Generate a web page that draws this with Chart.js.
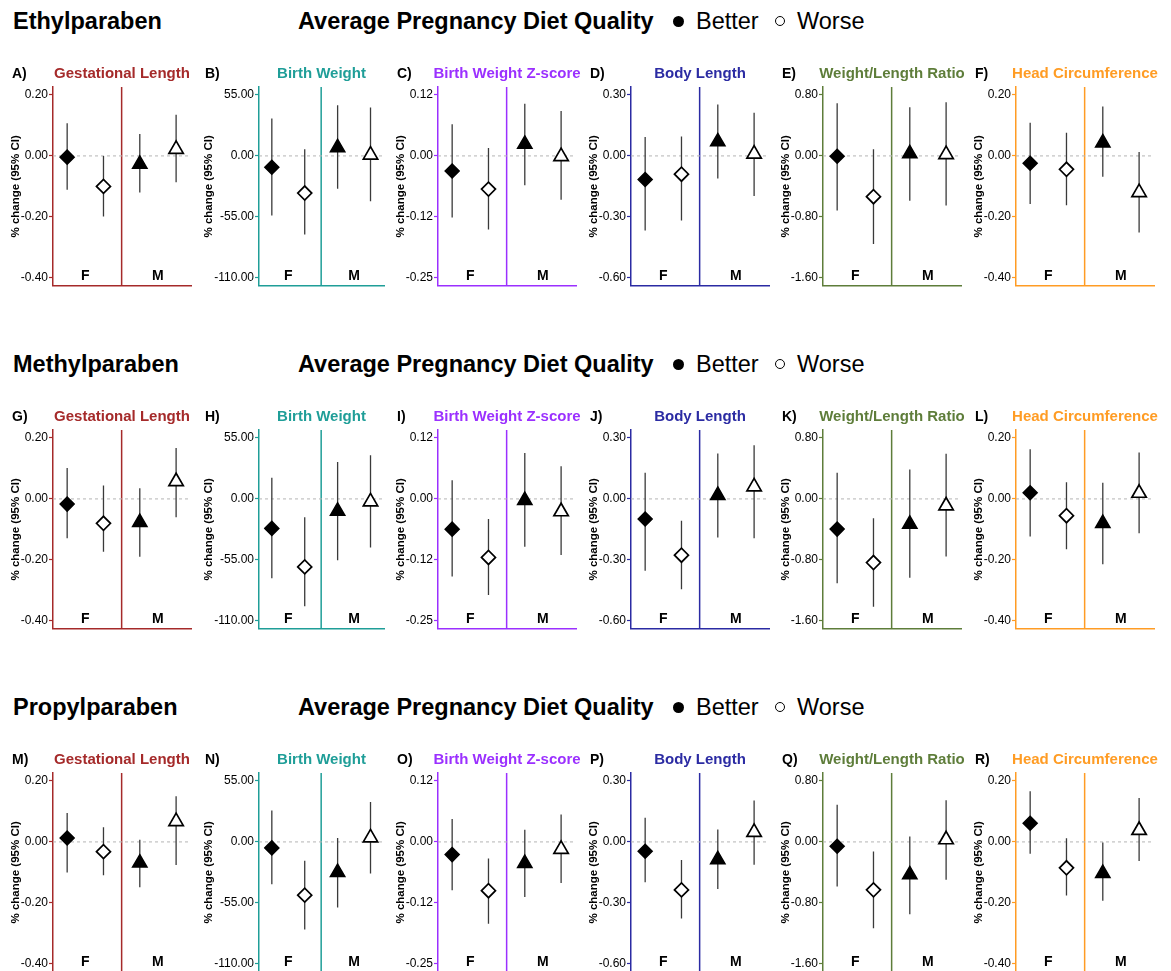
<!DOCTYPE html>
<html>
<head>
<meta charset="utf-8">
<script src="https://cdn.jsdelivr.net/npm/chart.js@4.4.1/dist/chart.umd.min.js"></script>
<style>
html, body { margin: 0; padding: 0; background: #fff; overflow: hidden; }
#wrap { position: relative; width: 1171px; height: 971px; overflow: hidden; font-family: "Liberation Sans", Arial, sans-serif; color: #000; }
.rowtitle { position: absolute; font-weight: bold; font-size: 23.5px; line-height: 27px; white-space: nowrap; }
.legtxt { position: absolute; font-size: 23.5px; line-height: 27px; white-space: nowrap; }
.dot { position: absolute; width: 11px; height: 11px; border-radius: 50%; background: #000; }
.odot { position: absolute; width: 8px; height: 8px; border-radius: 50%; border: 1.6px solid #000; background: #fff; }
canvas { position: absolute; }
</style>
</head>
<body>
<div id="wrap"></div>
<script>
// ---------- data ----------
const parabens = ['Ethylparaben', 'Methylparaben', 'Propylparaben'];
const legendTitle = 'Average Pregnancy Diet Quality';
const dietGroups = ['Better', 'Worse'];
const sexes = ['F', 'M'];
const outcomes = ['Gestational Length', 'Birth Weight', 'Birth Weight Z-score', 'Body Length', 'Weight/Length Ratio', 'Head Circumference'];
const panelLetters = [
  ['A)', 'B)', 'C)', 'D)', 'E)', 'F)'],
  ['G)', 'H)', 'I)', 'J)', 'K)', 'L)'],
  ['M)', 'N)', 'O)', 'P)', 'Q)', 'R)']
];
const yAxisTitle = '% change (95% CI)';
const yTickValues = [
  [-0.40, -0.20, 0.00, 0.20],
  [-110, -55, 0, 55],
  [-0.25, -0.125, 0, 0.125],
  [-0.60, -0.30, 0.00, 0.30],
  [-1.60, -0.80, 0.00, 0.80],
  [-0.40, -0.20, 0.00, 0.20]
];
const yTickLabels = [
  ['-0.40', '-0.20', '0.00', '0.20'],
  ['-110.00', '-55.00', '0.00', '55.00'],
  ['-0.25', '-0.12', '0.00', '0.12'],
  ['-0.60', '-0.30', '0.00', '0.30'],
  ['-1.60', '-0.80', '0.00', '0.80'],
  ['-0.40', '-0.20', '0.00', '0.20']
];

// per outcome: [F-Better, F-Worse, M-Better, M-Worse]
const ethylEstimate = [
  [-0.004, -0.100, -0.027, 0.022],
  [-10.2, -33.5, 7.5, 0.9],
  [-0.031, -0.068, 0.024, -0.001],
  [-0.116, -0.090, 0.070, 0.010],
  [-0.004, -0.535, 0.030, 0.020],
  [-0.024, -0.044, 0.043, -0.120]
];
const ethylLower = [
  [-0.111, -0.199, -0.120, -0.086],
  [-53.8, -70.8, -29.6, -41.0],
  [-0.126, -0.151, -0.060, -0.090],
  [-0.367, -0.318, -0.111, -0.197],
  [-0.717, -1.157, -0.587, -0.652],
  [-0.158, -0.162, -0.068, -0.251]
];
const ethylUpper = [
  [0.107, 0.000, 0.072, 0.135],
  [33.8, 6.0, 45.7, 43.6],
  [0.065, 0.016, 0.107, 0.092],
  [0.093, 0.096, 0.253, 0.212],
  [0.691, 0.087, 0.639, 0.704],
  [0.109, 0.076, 0.162, 0.013]
];

const methylEstimate = [
  [-0.017, -0.080, -0.077, 0.057],
  [-26.6, -61.3, -11.0, -2.5],
  [-0.062, -0.120, -0.003, -0.026],
  [-0.099, -0.277, 0.018, 0.060],
  [-0.396, -0.835, -0.330, -0.090],
  [0.020, -0.055, -0.080, 0.019]
];
const methylLower = [
  [-0.129, -0.173, -0.190, -0.060],
  [-71.6, -96.7, -55.3, -43.8],
  [-0.159, -0.197, -0.098, -0.115],
  [-0.354, -0.445, -0.190, -0.193],
  [-1.108, -1.415, -1.033, -0.756],
  [-0.123, -0.165, -0.214, -0.113]
];
const methylUpper = [
  [0.101, 0.044, 0.035, 0.167],
  [19.0, -16.6, 33.2, 39.3],
  [0.038, -0.041, 0.094, 0.067],
  [0.129, -0.107, 0.223, 0.264],
  [0.343, -0.255, 0.387, 0.593],
  [0.163, 0.055, 0.053, 0.152]
];

const propylEstimate = [
  [0.013, -0.032, -0.069, 0.067],
  [-5.4, -48.0, -27.5, 3.8],
  [-0.026, -0.100, -0.044, -0.015],
  [-0.046, -0.236, -0.087, 0.048],
  [-0.057, -0.629, -0.430, 0.030],
  [0.061, -0.085, -0.103, 0.038]
];
const propylLower = [
  [-0.100, -0.109, -0.149, -0.076],
  [-38.1, -78.9, -59.2, -28.4],
  [-0.099, -0.168, -0.113, -0.084],
  [-0.199, -0.377, -0.232, -0.112],
  [-0.585, -1.134, -0.949, -0.497],
  [-0.039, -0.176, -0.193, -0.063]
];
const propylUpper = [
  [0.095, 0.048, 0.007, 0.150],
  [28.4, -16.9, 3.6, 36.0],
  [0.047, -0.034, 0.025, 0.056],
  [0.119, -0.089, 0.061, 0.204],
  [0.488, -0.127, 0.070, 0.545],
  [0.166, 0.012, -0.002, 0.144]
];

// ---------- styling ----------
const FONT = '"Liberation Sans", Arial, sans-serif';
const outcomeColors = ['#A52A2A', '#1F9E98', '#9B30FF', '#2B2BA3', '#5E7D3A', '#FF9C24'];
const estimateSets = [
  [ethylEstimate, ethylLower, ethylUpper],
  [methylEstimate, methylLower, methylUpper],
  [propylEstimate, propylLower, propylUpper]
];
const ROW_PITCH = 343;
const BLOCK_W = 192.5;
const X_MIN = 0.555, X_MAX = 2.455;

Chart.defaults.font.family = FONT;

const wrap = document.getElementById('wrap');

function addDiv(cls, text, left, top) {
  const d = document.createElement('div');
  d.className = cls;
  if (text) d.textContent = text;
  d.style.left = left + 'px';
  d.style.top = top + 'px';
  wrap.appendChild(d);
  return d;
}

const panelText = {
  id: 'panelText',
  afterDraw(chart, args, opts) {
    const { ctx, chartArea: a, scales: { x } } = chart;
    ctx.save();
    ctx.textBaseline = 'middle';
    ctx.textAlign = 'left';
    ctx.fillStyle = '#000';
    ctx.font = 'bold 14px ' + FONT;
    ctx.fillText(opts.letter, 12, a.top - 13);
    ctx.textAlign = 'center';
    ctx.fillStyle = opts.color;
    ctx.font = 'bold 15px ' + FONT;
    ctx.fillText(opts.title, (a.left + a.right) / 2, a.top - 13);
    ctx.fillStyle = '#000';
    ctx.font = 'bold 14px ' + FONT;
    sexes.forEach((s, i) => ctx.fillText(s, x.getPixelForValue(i + 1), a.bottom - 10));
    ctx.restore();
  }
};

parabens.forEach((pName, r) => {
  const rowY = r * ROW_PITCH;
  addDiv('rowtitle', pName, 13, rowY + 8);
  addDiv('rowtitle', legendTitle, 298, rowY + 8);
  addDiv('dot', '', 672.5, rowY + 16);
  addDiv('legtxt', dietGroups[0], 696, rowY + 8);
  addDiv('odot', '', 774.5, rowY + 16);
  addDiv('legtxt', dietGroups[1], 797, rowY + 8);

  const [estA, lowA, upA] = estimateSets[r];

  outcomes.forEach((oName, c) => {
    const color = outcomeColors[c];
    const ticks = yTickValues[c];
    const step = ticks[3];
    const yMin = ticks[0] - 0.13 * step;
    const yMax = ticks[3] + 0.13 * step;
    const est = estA[c], lo = lowA[c], up = upA[c];

    const canvas = document.createElement('canvas');
    const left = Math.round(c * BLOCK_W);
    canvas.width = 204;
    canvas.height = 239;
    canvas.style.left = left + 'px';
    canvas.style.top = (rowY + 55) + 'px';
    wrap.appendChild(canvas);

    // x positions: sex index + dodge (Better left, Worse right)
    const xs = [0.75, 1.25, 1.75, 2.25];
    const ciSets = xs.map((xv, k) => ({
      data: [{ x: xv, y: lo[k] }, { x: xv, y: up[k] }],
      showLine: true, borderColor: '#3a3a3a', borderWidth: 1.3, pointRadius: 0, order: 1
    }));

    new Chart(canvas, {
      type: 'scatter',
      data: {
        datasets: [
          {
            label: dietGroups[0],
            data: [{ x: xs[0], y: est[0] }, { x: xs[2], y: est[2] }],
            pointStyle: ['rectRot', 'triangle'],
            pointRadius: [7, 8.3],
            backgroundColor: '#000', borderColor: '#000', borderWidth: 1.5, order: 0
          },
          {
            label: dietGroups[1],
            data: [{ x: xs[1], y: est[1] }, { x: xs[3], y: est[3] }],
            pointStyle: ['rectRot', 'triangle'],
            pointRadius: [7, 8.3],
            backgroundColor: '#fff', borderColor: '#000', borderWidth: 1.7, order: 0
          },
          ...ciSets,
          {
            data: [{ x: X_MIN, y: 0 }, { x: X_MAX, y: 0 }],
            showLine: true, borderColor: '#b5b5b5', borderWidth: 1, borderDash: [3, 3], pointRadius: 0, order: 2
          },
          {
            data: [{ x: 1.5, y: yMin }, { x: 1.5, y: yMax }],
            showLine: true, borderColor: color, borderWidth: 1.5, pointRadius: 0, order: 2
          }
        ]
      },
      options: {
        responsive: false,
        animation: false,
        events: [],
        layout: { autoPadding: false, padding: { left: 0, right: 13, top: 32, bottom: 5 } },
        plugins: {
          legend: { display: false },
          tooltip: { enabled: false },
          panelText: { letter: panelLetters[r][c], title: oName, color: color }
        },
        scales: {
          x: {
            type: 'linear', min: X_MIN, max: X_MAX,
            ticks: { display: false },
            grid: { display: false, drawTicks: false },
            border: { display: true, color: color, width: 1.5 },
            afterFit: s => { s.height = 0; }
          },
          y: {
            type: 'linear', min: yMin, max: yMax,
            afterBuildTicks: s => { s.ticks = ticks.map(v => ({ value: v })); },
            afterFit: s => { s.width = (c === 1) ? 66 : 53; },
            ticks: {
              autoSkip: false, padding: 1, color: '#000',
              font: { size: 12, family: FONT },
              callback: (v, i) => yTickLabels[c][i]
            },
            grid: { drawOnChartArea: false, drawTicks: true, tickLength: 4, tickColor: color, color: color, tickWidth: 1.2 },
            border: { display: true, color: color, width: 1.5 },
            title: {
              display: true, text: yAxisTitle, color: '#000',
              font: { size: 11.5, weight: 'bold', family: FONT },
              padding: { top: 9, bottom: 0 }
            }
          }
        }
      },
      plugins: [panelText]
    });
  });
});
</script>
</body>
</html>
